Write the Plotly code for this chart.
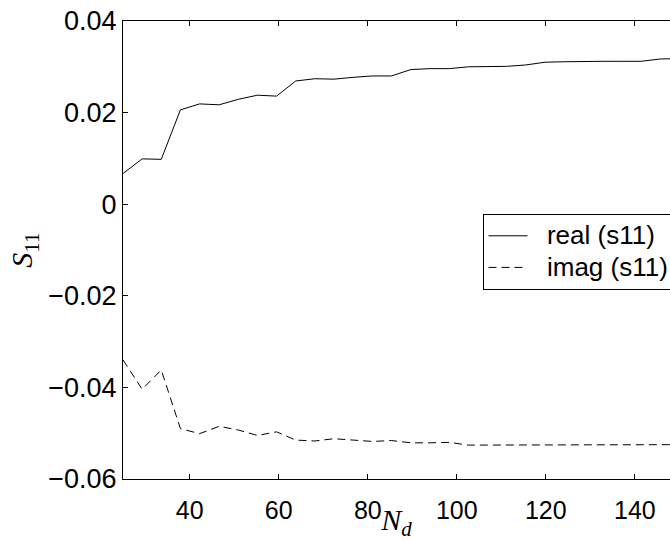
import plotly.graph_objects as go

# N_d sample points
n_d = [25.0, 29.3, 33.6, 37.9, 42.2, 46.6, 50.9, 55.2, 59.5, 63.8,
       68.1, 72.4, 76.7, 81.0, 85.3, 89.7, 94.0, 98.3, 102.6, 106.9,
       111.2, 115.5, 119.8, 124.1, 128.4, 132.8, 137.1, 141.4, 145.7, 150.0]

s11_real = [0.0067, 0.0099, 0.0098, 0.0206, 0.0219, 0.0217, 0.0229, 0.0238, 0.0236, 0.0269,
            0.0274, 0.0273, 0.0277, 0.0280, 0.0280, 0.0294, 0.0296, 0.0296, 0.0300, 0.0301,
            0.0301, 0.0304, 0.0310, 0.0311, 0.0312, 0.0312, 0.0312, 0.0312, 0.0317, 0.0318]

s11_imag = [-0.0340, -0.0404, -0.0362, -0.0490, -0.0501, -0.0485, -0.0493, -0.0505, -0.0497, -0.0515,
            -0.0517, -0.0512, -0.0515, -0.0518, -0.0516, -0.0521, -0.0521, -0.0520, -0.0526, -0.0526,
            -0.0525, -0.0526, -0.0526, -0.0526, -0.0526, -0.0526, -0.0525, -0.0525, -0.0525, -0.0525]

series_names = ["real (s11)", "imag (s11)"]
x_ticks = [40, 60, 80, 100, 120, 140]
y_ticks = [0.04, 0.02, 0, -0.02, -0.04, -0.06]

FONT = "Liberation Sans, Arial, sans-serif"
SERIF = "Liberation Serif, Times New Roman, serif"

def legend_label(t):
    return "<span style='font-size:26px'>&nbsp;&nbsp;" + t + "</span>"

fig = go.Figure()
fig.add_trace(go.Scatter(x=n_d, y=s11_real, mode="lines", name=legend_label(series_names[0]),
                         line=dict(color="black", width=1)))
fig.add_trace(go.Scatter(x=n_d, y=s11_imag, mode="lines", name=legend_label(series_names[1]),
                         line=dict(color="black", width=1, dash="8px,5px")))

fig.update_layout(
    width=670, height=541,
    margin=dict(l=123, r=0, t=21, b=62, pad=0, autoexpand=False),
    paper_bgcolor="white", plot_bgcolor="white",
    font=dict(family=FONT, size=25, color="black"),
    showlegend=True,
    legend=dict(x=(482.5 - 123) / 547, y=(479 - 214) / 458, xanchor="left", yanchor="top",
                bgcolor="white", bordercolor="black", borderwidth=1,
                font=dict(family=FONT, size=22, color="black"),
                tracegroupgap=0, itemwidth=39),
    xaxis=dict(range=[25, 147.9], tickvals=x_ticks, ticks="inside", ticklen=5,
               tickcolor="black", tickwidth=1, showline=True, linecolor="black", linewidth=1,
               mirror="ticks", showgrid=False, zeroline=False, ticklabelstandoff=9,
               tickfont=dict(family=FONT, size=25), automargin=True,
               title=dict(text="\u00a0<i>N</i><sub><i>d</i></sub>", standoff=7,
                          font=dict(family=SERIF, size=30))),
    yaxis=dict(range=[-0.06, 0.04], tickvals=y_ticks, ticks="inside", ticklen=5,
               tickcolor="black", tickwidth=1, showline=True, linecolor="black", linewidth=1,
               showgrid=False, zeroline=False, ticklabelstandoff=0,
               tickfont=dict(family=FONT, size=27), automargin=False,
               title=dict(text="<i>S</i><sub>11</sub>", standoff=6,
                          font=dict(family=SERIF, size=30))),
)

fig.write_html("out.html")
